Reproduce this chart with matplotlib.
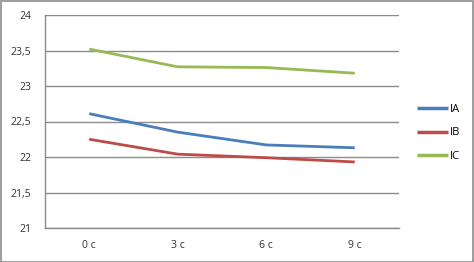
import matplotlib.pyplot as plt
from matplotlib.patches import Rectangle

categories = ["0 c", "3 c", "6 c", "9 c"]
ia = [22.61, 22.35, 22.17, 22.13]
ib = [22.25, 22.04, 21.99, 21.93]
ic = [23.52, 23.27, 23.26, 23.18]
yticks = [21, 21.5, 22, 22.5, 23, 23.5, 24]
ytick_labels = ["21", "21,5", "22", "22,5", "23", "23,5", "24"]

plt.rcParams['font.family'] = ['Open Sans', 'DejaVu Sans']

fig = plt.figure(figsize=(4.74, 2.62), dpi=100)
W, H = 474, 262
ax = fig.add_axes([45 / W, 1 - 228 / H, (399 - 45) / W, (228 - 15) / H])

x = range(len(categories))
ax.plot(x, ia, color="#4A7EBB", lw=2.0, label="IA", solid_capstyle="butt")
ax.plot(x, ib, color="#BE4B48", lw=2.0, label="IB", solid_capstyle="butt")
ax.plot(x, ic, color="#98B954", lw=2.0, label="IC", solid_capstyle="butt")

ax.set_xlim(-0.5, len(categories) - 0.5)
ax.set_ylim(21, 24)
ax.set_yticks(yticks)
ax.set_yticklabels(ytick_labels)
ax.set_xticks(list(x))
ax.set_xticklabels(categories)
ax.tick_params(length=0, labelsize=7.5, colors="#333333")
ax.tick_params(axis="y", pad=10)
ax.tick_params(axis="x", pad=9)
ax.grid(axis="y", color="#8C8C8C", lw=1.0)
ax.set_axisbelow(True)
for s in ["top", "right"]:
    ax.spines[s].set_visible(False)
for s in ["left", "bottom"]:
    ax.spines[s].set_color("#8C8C8C")
    ax.spines[s].set_linewidth(1.0)

leg = ax.legend(loc="upper left", bbox_to_anchor=(407 / W, 1 - 94 / H), bbox_transform=fig.transFigure,
                frameon=False, fontsize=8, handlelength=2.8, handletextpad=0.2, labelspacing=1.12)
for line in leg.get_lines():
    line.set_linewidth(2.5)

fig.patches.append(Rectangle((0.5 / W, 0.5 / H), 1 - 1.5 / W, 1 - 1.5 / H, transform=fig.transFigure,
                             fill=False, edgecolor="#8C8C8C", lw=1.2))

fig.savefig("out.png", dpi=100)
